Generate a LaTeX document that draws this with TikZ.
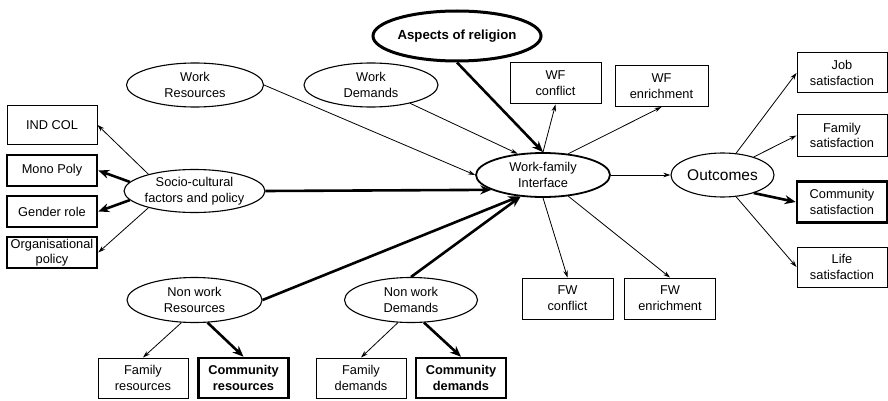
\documentclass[tikz,border=0pt]{standalone}
\usepackage{fontspec}
\setmainfont{Liberation Sans}
\usetikzlibrary{shapes.geometric,arrows.meta}
\begin{document}
\begin{tikzpicture}[x=1pt,y=-1pt,
  every node/.style={font=\fontsize{12.8}{15.8}\selectfont,align=center,inner sep=0pt},
  oval/.style={ellipse,draw,line width=1.1pt,minimum width=134pt,minimum height=44pt},
  box/.style={rectangle,draw,line width=1pt,minimum width=90pt,minimum height=40pt},
  boldbox/.style={box,line width=2.6pt},
  thin/.style={line width=0.8pt,-{Stealth[length=7pt,width=4.5pt]}},
  thick/.style={line width=2.6pt,-{Stealth[length=11pt,width=9pt]}}]
\useasboundingbox (0,0) rectangle (888,401);

% central construct and its drivers
\node[oval,line width=1.8pt] (wfi) at (543,175) {Work-family\\Interface};
\node[oval,line width=3pt,minimum width=130pt,minimum height=50pt,font=\fontsize{13.2}{15}\selectfont\bfseries] (asp) at (457,36) {Aspects of religion};
\node[oval,minimum width=137pt] (wr) at (195,85) {Work\\Resources};
\node[oval] (wd) at (371,85) {Work\\Demands};
\node[oval,minimum width=135pt,minimum height=43pt] (soc) at (194.5,191) {Socio-cultural\\factors and policy};
\node[oval,minimum width=135pt,minimum height=45pt] (nwr) at (194.5,300) {Non work\\Resources};
\node[oval,minimum width=133pt,minimum height=45pt] (nwd) at (411,300) {Non work\\Demands};

% socio-cultural components
\node[box,minimum height=38pt] (ind) at (52,125) {IND COL};
\node[boldbox,minimum height=31pt] (mono) at (52,170.5) {Mono Poly};
\node[boldbox,minimum height=31pt] (gen) at (52,211.5) {Gender role};
\node[boldbox,minimum height=31pt,font=\fontsize{12.8}{14.5}\selectfont] (org) at (52,252.5) {Organisational\\policy};

% non-work components
\node[box] (fres) at (143,378) {Family\\resources};
\node[boldbox] (cres) at (243.5,378) {\bfseries Community\\\bfseries resources};
\node[box] (fdem) at (361,378) {Family\\demands};
\node[boldbox] (cdem) at (461,378) {\bfseries Community\\\bfseries demands};

% interface directions
\node[box,minimum width=91pt,minimum height=41pt] (wfc) at (555.5,83.5) {WF\\conflict};
\node[box,minimum width=93pt,minimum height=41pt] (wfe) at (661.5,86) {WF\\enrichment};
\node[box,minimum width=91pt,minimum height=41pt] (fwc) at (567.5,298.5) {FW\\conflict};
\node[box,minimum width=91pt,minimum height=41pt] (fwe) at (670,298.5) {FW\\enrichment};

% outcomes
\node[oval,minimum width=103pt,minimum height=44pt,font=\fontsize{15.5}{17}\selectfont] (out) at (722.5,175) {Outcomes};
\node[box] (job) at (842,73) {Job\\satisfaction};
\node[box,minimum height=41pt] (fam) at (842,135.5) {Family\\satisfaction};
\node[boldbox,minimum height=41pt] (com) at (842,202) {Community\\satisfaction};
\node[box] (life) at (842,267) {Life\\satisfaction};

% connectors into the interface
\draw[thick] (asp.south) -- (wfi.north);
\draw[thin] (wr.east) -- (wfi.west);
\draw[thin] (wd) -- (wfi.140);
\draw[thick] (soc.east) -- (wfi.196);
\draw[thick] (nwr.east) -- (wfi.222);
\draw[thick] (nwd.north) -- (wfi.224);

% connectors out of the interface
\draw[thin] (wfi.north) -- (wfc.south);
\draw[thin] (wfi.40) -- (wfe.south);
\draw[thin] (wfi.south) -- (fwc.north);
\draw[thin] (wfi.320) -- (fwe.north);
\draw[thin] (wfi.east) -- (out.west);

% outcome connectors
\draw[thin] (out.58) -- (job.west);
\draw[thin] (out.30) -- (fam.west);
\draw[thick] (out.330) -- (com.west);
\draw[thin] (out.302) -- (life.west);

% socio-cultural connectors
\draw[thin] (soc.160) -- (ind.east);
\draw[thick] (soc.172) -- (mono.east);
\draw[thick] (soc.188) -- (gen.east);
\draw[thin] (soc.200) -- (org.east);

% non-work connectors
\draw[thin] (nwr.240) -- (fres.north);
\draw[thick] (nwr.300) -- (cres.north);
\draw[thin] (nwd.240) -- (fdem.north);
\draw[thick] (nwd.300) -- (cdem.north);
\end{tikzpicture}
\end{document}
